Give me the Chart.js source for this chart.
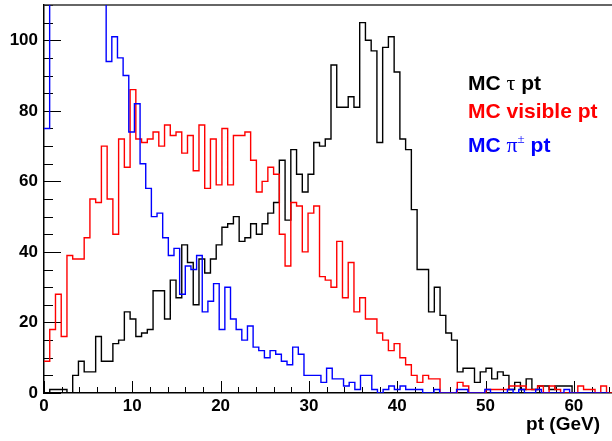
<!DOCTYPE html>
<html>
<head>
<meta charset="utf-8">
<script src="https://cdn.jsdelivr.net/npm/chart.js@4.4.0/dist/chart.umd.min.js"></script>
<style>
    html, body { margin: 0; padding: 0; background: #fff; overflow: hidden; }
    #box { position: relative; width: 612px; height: 441px; overflow: hidden; }
    #myChart { position: absolute; left: 0; top: 0; }
</style>
</head>
<body>
<div id="box"><canvas id="myChart" width="640" height="441" style="width:640px;height:441px;"></canvas></div>
<script>
// tau pt and visible pt: 100 bins from 0 to 65 GeV
var binWidthTau = 0.65;
// pi+- pt: 100 bins from 0 to 64 GeV
var binWidthPi = 0.64;

var tauPt = [
    0, 1, 1, 1, 0, 5, 9, 6, 6, 16,
    9, 9, 14, 15, 23, 21, 16, 17, 18, 29,
    29, 21, 32, 27, 42, 37, 25, 38, 34, 38,
    42, 47, 48, 50, 43, 44, 48, 45, 48, 51,
    54, 66, 49, 69, 62, 57, 62, 71, 70, 72,
    93, 81, 81, 84, 81, 105, 100, 97, 71, 98,
    101, 91, 72, 69, 52, 35, 35, 23, 30, 22,
    17, 15, 6, 7, 7, 3, 6, 7, 4, 6,
    5, 1, 3, 1, 4, 1, 2, 2, 1, 2,
    2, 2, 0, 0, 0, 0, 0, 0, 0, 0
];

var visPt = [
    9, 18, 28, 16, 39, 38, 38, 44, 55, 54,
    70, 55, 45, 72, 64, 86, 72, 71, 72, 74,
    70, 76, 73, 74, 68, 73, 63, 76, 58, 72,
    59, 75, 59, 73, 73, 74, 66, 57, 60, 64,
    62, 45, 36, 54, 53, 40, 51, 53, 33, 32,
    30, 43, 27, 37, 23, 27, 21, 21, 17, 15,
    12, 14, 10, 8, 5, 3, 5, 4, 4, 0,
    0, 0, 3, 2, 0, 0, 0, 1, 1, 1,
    1, 2, 2, 2, 1, 1, 2, 0, 2, 1,
    0, 0, 0, 2, 1, 1, 0, 2, 0, 0
];

// bins 1-10 run off the top of the frame
var piPt = [
    75, 125, 140, 150, 155, 150, 145, 138, 130, 122,
    115, 94, 101, 95, 90, 74, 82, 65, 58, 50,
    51, 44, 39, 41, 28, 36, 35, 39, 23, 26,
    31, 18, 30, 21, 18, 15, 19, 13, 12, 10,
    12, 11, 9, 8, 13, 11, 5, 5, 5, 3,
    7, 4, 4, 2, 3, 1, 5, 5, 1, 0,
    1, 2, 1, 2, 1, 1, 1, 0, 0, 1,
    0, 0, 0, 1, 1, 0, 0, 0, 1, 0,
    0, 0, 1, 0, 1, 0, 0, 1, 0, 0,
    0, 0, 1, 0, 0, 0, 0, 0, 0, 0
];

var xLabels = [0, 10, 20, 30, 40, 50, 60];
var yLabels = [0, 20, 40, 60, 80, 100];
var xTitle = "pt (GeV)";

var FONT = "'Liberation Sans', Arial, Helvetica, sans-serif";
var SERIF = "'Liberation Serif', 'DejaVu Serif', serif";

// low edge of every bin, plus the upper edge of the last one
function histPoints(values, w) {
    var pts = values.map(function (v, i) { return { x: i * w, y: v }; });
    pts.push({ x: values.length * w, y: values[values.length - 1] });
    return pts;
}

// text with mixed fonts on one line
function drawParts(ctx, parts, x, y, color) {
    ctx.fillStyle = color;
    parts.forEach(function (p) {
        ctx.font = p.font;
        ctx.fillText(p.t, x, y + (p.dy || 0));
        x += ctx.measureText(p.t).width;
    });
}

var rootFrame = {
    id: 'rootFrame',
    beforeDatasetsDraw: function (chart) {
        var ctx = chart.ctx, a = chart.chartArea;
        var x = chart.scales.x, y = chart.scales.y;
        ctx.save();
        ctx.strokeStyle = '#000';
        ctx.lineWidth = 1;
        ctx.beginPath();
        x.ticks.forEach(function (t) {
            var px = Math.round(x.getPixelForValue(t.value)) + 0.5;
            var len = xLabels.indexOf(t.value) >= 0 ? 12 : 6;
            ctx.moveTo(px, a.bottom);
            ctx.lineTo(px, a.bottom - len);
        });
        y.ticks.forEach(function (t) {
            var py = Math.round(y.getPixelForValue(t.value)) + 0.5;
            var len = yLabels.indexOf(t.value) >= 0 ? 17 : 9;
            ctx.moveTo(a.left, py);
            ctx.lineTo(a.left + len, py);
        });
        ctx.stroke();
        ctx.strokeStyle = '#333';
        ctx.lineWidth = 1.5;
        ctx.beginPath();
        ctx.moveTo(a.left, a.top);
        ctx.lineTo(a.right, a.top);
        ctx.stroke();
        ctx.restore();
    },
    afterDraw: function (chart) {
        var ctx = chart.ctx;
        var bold = 'bold 21px ' + FONT;
        ctx.save();
        ctx.textBaseline = 'alphabetic';
        ctx.textAlign = 'left';
        drawParts(ctx, [
            { t: 'MC ', font: bold },
            { t: 'τ', font: '22px ' + SERIF },
            { t: ' pt', font: bold }
        ], 468, 90, '#000000');
        drawParts(ctx, [
            { t: 'MC visible pt', font: bold }
        ], 468, 118, '#ff0000');
        drawParts(ctx, [
            { t: 'MC ', font: bold },
            { t: 'π', font: '22px ' + SERIF },
            { t: '±', font: '13px ' + SERIF, dy: -9 },
            { t: ' pt', font: bold }
        ], 468, 152, '#0000ff');

        ctx.font = 'bold 19px ' + FONT;
        ctx.fillStyle = '#000';
        ctx.textAlign = 'right';
        ctx.fillText(xTitle, 600, 430);
        ctx.restore();
    }
};

new Chart("myChart", {
    type: "line",
    data: {
        datasets: [{
            label: 'MC tau pt',
            data: histPoints(tauPt, binWidthTau),
            borderColor: '#000000',
            order: 2
        }, {
            label: 'MC visible pt',
            data: histPoints(visPt, binWidthTau),
            borderColor: '#ff0000',
            order: 1
        }, {
            label: 'MC pi pt',
            data: histPoints(piPt, binWidthPi),
            borderColor: '#0000ff',
            order: 0
        }]
    },
    options: {
        responsive: false,
        animation: false,
        devicePixelRatio: 1,
        events: [],
        layout: { padding: { top: 5, right: 22, left: 0, bottom: 0 }, autoPadding: false },
        elements: {
            line: { borderWidth: 1.4, stepped: true, tension: 0, fill: false },
            point: { radius: 0 }
        },
        plugins: {
            legend: { display: false },
            tooltip: { enabled: false }
        },
        scales: {
            x: {
                type: 'linear',
                min: 0,
                max: 65,
                afterFit: function (s) {
                    s.height = 48;
                    s.paddingLeft = 0;
                    s.paddingRight = 0;
                },
                grid: { display: false, drawTicks: false },
                border: { display: true, color: '#000', width: 1.5 },
                ticks: {
                    stepSize: 2,
                    autoSkip: false,
                    maxRotation: 0,
                    includeBounds: false,
                    padding: 3,
                    color: '#000',
                    font: { family: FONT, size: 17, weight: 'bold' },
                    callback: function (v) { return xLabels.indexOf(v) >= 0 ? String(v) : ''; }
                }
            },
            y: {
                min: 0,
                max: 110,
                afterFit: function (s) {
                    s.width = 44;
                    s.paddingTop = 0;
                    s.paddingBottom = 0;
                },
                grid: { display: false, drawTicks: false },
                border: { display: true, color: '#000', width: 1.5 },
                ticks: {
                    stepSize: 5,
                    autoSkip: false,
                    padding: 6,
                    color: '#000',
                    font: { family: FONT, size: 17, weight: 'bold' },
                    callback: function (v) { return yLabels.indexOf(v) >= 0 ? String(v) : ''; }
                }
            }
        }
    },
    plugins: [rootFrame]
});
</script>
</body>
</html>
